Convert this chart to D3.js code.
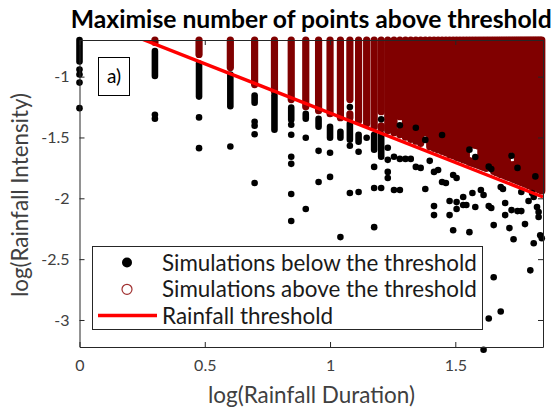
<!DOCTYPE html>
<html><head><meta charset="utf-8">
<script src="https://cdn.jsdelivr.net/npm/d3@7"></script>
<style>
html,body{margin:0;padding:0;background:#fff;}
svg{display:block;font-family:Lato,"Open Sans",sans-serif;}
</style></head><body>
<svg id="chart" width="559" height="415"></svg>
<script>
// axis limits and ticks (log10 units)
const xDomain = [0, 1.85];
const yDomain = [-3.222, -0.699];
const xTicks = [0, 0.5, 1, 1.5];
const yTicks = [-3, -2.5, -2, -1.5, -1];

// fitted threshold: two end points [log duration, log intensity]
const thresholdLine = [[0, -0.489], [1.85, -1.989]];

// simulations above threshold: per duration (h), lowest log intensity; columns run up to the top limit
const redColumns = [
  [2,-0.719],[3,-0.818],[4,-0.925],[5,-1.065],[6,-1.123],[7,-1.189],[8,-1.247],[9,-1.280],
  [10,-1.305],[11,-1.338],[12,-1.338],[13,-1.362],[14,-1.387],[15,-1.412],[16,-1.428],
  [17,-1.445],[18,-1.461],[19,-1.478],[20,-1.498],[21,-1.515],[22,-1.531],[23,-1.548],
  [24,-1.461],[25,-1.577],[26,-1.589],[27,-1.602],[28,-1.614],[29,-1.626],[30,-1.643],
  [31,-1.651],[32,-1.663],[33,-1.672],[34,-1.684],[35,-1.692],[36,-1.705],[37,-1.713],
  [38,-1.721],[39,-1.729],[40,-1.738],[41,-1.746],[42,-1.754],[43,-1.684],[44,-1.690],
  [45,-1.779],[46,-1.787],[47,-1.795],[48,-1.804],[49,-1.808],[50,-1.816],[51,-1.824],
  [52,-1.828],[53,-1.837],[54,-1.845],[55,-1.849],[56,-1.857],[57,-1.861],[58,-1.870],
  [59,-1.874],[60,-1.882],[61,-1.886],[62,-1.894],[63,-1.899],[64,-1.907],[65,-1.911],
  [66,-1.915],[67,-1.919],[68,-1.927],[69,-1.932],[70,-1.940]
];
// empty stretches inside the red cloud [duration, top, bottom]
const redGaps = [
  [12,-1.189,-1.305],[16,-1.288,-1.404],[19,-1.329,-1.445],
  [36,-1.560,-1.690],[37,-1.560,-1.700],[38,-1.565,-1.709],[39,-1.570,-1.700],
  [52,-1.593,-1.725],[53,-1.593,-1.725],[54,-1.600,-1.725],[55,-1.605,-1.720]
];

// simulations below threshold: dense runs [duration, top, bottom] and single points [duration, log intensity]
const blackRuns = [
  [1,-0.699,-0.875],[2,-0.789,-0.995],[3,-0.892,-1.164],[4,-0.983,-1.243],[5,-1.156,-1.214],
  [6,-1.156,-1.437],[7,-1.255,-1.354],[8,-1.305,-1.346],[9,-1.346,-1.412],[10,-1.412,-1.502],
  [11,-1.453,-1.502],[12,-1.387,-1.519],[13,-1.478,-1.535],[15,-1.478,-1.601],[16,-1.478,-1.659]
];
const blackPoints = [
  [1,-0.941],[1,-0.983],[1,-1.049],[1,-1.259],[2,-1.313],[2,-1.346],[3,-1.335],[3,-1.588],
  [4,-1.574],[5,-1.371],[5,-1.404],[5,-1.474],[5,-1.874],
  [7,-1.395],[7,-1.478],[7,-1.659],[7,-1.717],[7,-1.965],[7,-2.187],[8,-1.502],[8,-2.088],
  [9,-1.610],[9,-1.866],[10,-1.626],[10,-1.824],[11,-2.319],[12,-1.568],[12,-1.956],
  [13,-1.618],[13,-1.948],[14,-1.502],[15,-1.742],[15,-1.915],[15,-2.237],[16,-1.915],
  [17,-1.585],[17,-1.684],[17,-1.783],[17,-1.833],[18,-1.659],[18,-1.932],[19,-1.676],[19,-1.932],
  [20,-1.676],[21,-1.676],[22,-1.742],[23,-1.750],[24,-1.923],[25,-1.692],
  [26,-1.783],[26,-2.064],[26,-2.138],[27,-1.767],[28,-1.866],[29,-1.874],[30,-2.022],[30,-2.138],
  [31,-1.808],[31,-2.262],[32,-1.833],[32,-2.031],[32,-2.088],[34,-1.989],[34,-2.055],
  [35,-2.055],[36,-2.278],[37,-1.956],[38,-2.072],[40,-1.932],[41,-1.973],[41,-3.244],
  [43,-2.064],[43,-2.988],[44,-2.080],[45,-2.220],[45,-2.649],[48,-1.907],[48,-2.930],
  [49,-1.923],[50,-2.039],[50,-2.138],[52,-2.245],[53,-2.097],[54,-2.336],[56,-2.105],
  [58,-2.105],[58,-1.948],[60,-2.212],[62,-2.022],[63,-2.592],[64,-1.956],[65,-1.989],
  [65,-2.369],[67,-2.072],[68,-2.113],[68,-2.154],[69,-2.303],[70,-2.328],
  // a few showing through the red cloud
  [12,-1.250],[16,-1.350],[19,-1.400],[22,-1.420],[24,-1.520],[28,-1.480],[36,-1.600],
  [38,-1.660],[43,-1.740],[44,-1.760],[53,-1.650],[56,-1.750],[66,-1.820]
];

const legendItems = ["Simulations below the threshold", "Simulations above the threshold", "Rainfall threshold"];

const RED = "#800000", AX = "#262626", TXT = "#404040";
const svg = d3.select("#chart");
const plot = { left: 79.5, right: 543, top: 40, bottom: 347 };
const x = d3.scaleLinear().domain(xDomain).range([plot.left, plot.right]);
const y = d3.scaleLinear().domain(yDomain).range([plot.bottom, plot.top]);
const lx = d => x(Math.log10(d));

function fit(t, width) {
  const fs = parseFloat(t.attr("font-size"));
  const w = t.node().getComputedTextLength();
  t.attr("font-size", (fs * width / w).toFixed(2));
  return t;
}

svg.append("defs").append("clipPath").attr("id", "clip")
  .append("rect").attr("x", plot.left).attr("y", plot.top)
  .attr("width", plot.right - plot.left).attr("height", plot.bottom - plot.top);

// red cloud: each column split around its empty stretches
const redSegments = [];
redColumns.forEach(([d, low]) => {
  let top = yDomain[1];
  redGaps.filter(g => g[0] === d).forEach(g => {
    redSegments.push([d, top, g[1]]);
    top = g[2];
  });
  if (top > low) redSegments.push([d, top, low]);
});
svg.append("g").selectAll("line").data(redSegments).join("line")
  .attr("x1", d => lx(d[0])).attr("x2", d => lx(d[0]))
  .attr("y1", d => y(d[1])).attr("y2", d => y(d[2]))
  .attr("stroke", RED).attr("stroke-width", 7.2).attr("stroke-linecap", "round");

// black simulations
svg.append("g").selectAll("line").data(blackRuns).join("line")
  .attr("x1", d => lx(d[0])).attr("x2", d => lx(d[0]))
  .attr("y1", d => y(d[1])).attr("y2", d => y(d[2]))
  .attr("stroke", "#000").attr("stroke-width", 6.6).attr("stroke-linecap", "round");
svg.append("g").selectAll("circle").data(blackPoints).join("circle")
  .attr("cx", d => lx(d[0])).attr("cy", d => y(d[1])).attr("r", 3.3).attr("fill", "#000");

// threshold
svg.append("path").datum(thresholdLine).attr("clip-path", "url(#clip)")
  .attr("fill", "none").attr("stroke", "#ff0000").attr("stroke-width", 3.4)
  .attr("d", d3.line().x(d => x(d[0])).y(d => y(d[1])));

// axes (box with inward ticks)
function styleAxis(g) {
  g.select(".domain").attr("stroke", AX);
  g.selectAll(".tick line").attr("stroke", AX);
  g.selectAll(".tick text").attr("fill", TXT).attr("font-size", 16).attr("font-family", "Lato, sans-serif");
}
svg.append("g").attr("transform", `translate(0,${plot.bottom})`)
  .call(d3.axisBottom(x).tickValues(xTicks).tickSizeInner(-5).tickSizeOuter(0).tickPadding(13).tickFormat(d3.format("")))
  .call(styleAxis);
svg.append("g").attr("transform", `translate(0,${plot.top})`)
  .call(d3.axisTop(x).tickValues(xTicks).tickSizeInner(-5).tickSizeOuter(0).tickFormat(""))
  .call(styleAxis);
svg.append("g").attr("transform", `translate(${plot.left},0)`)
  .call(d3.axisLeft(y).tickValues(yTicks).tickSizeInner(-5).tickSizeOuter(0).tickPadding(10).tickFormat(d3.format("")))
  .call(styleAxis);
svg.append("g").attr("transform", `translate(${plot.right},0)`)
  .call(d3.axisRight(y).tickValues(yTicks).tickSizeInner(-5).tickSizeOuter(0).tickFormat(""))
  .call(styleAxis);
svg.selectAll(".tick text").text(function () { return this.textContent.replace("−", "-"); });

// title and axis labels
fit(svg.append("text").attr("x", (plot.left + plot.right) / 2).attr("y", 28)
  .attr("text-anchor", "middle").attr("font-weight", 700).attr("font-size", 19).attr("fill", "#000")
  .text("Maximise number of points above threshold"), 481);
fit(svg.append("text").attr("x", 311.5).attr("y", 403).attr("text-anchor", "middle")
  .attr("font-size", 17).attr("fill", TXT).text("log(Rainfall Duration)"), 207);
fit(svg.append("text").attr("transform", "translate(28,195) rotate(-90)").attr("text-anchor", "middle")
  .attr("font-size", 17).attr("fill", TXT).text("log(Rainfall Intensity)"), 204);

// panel tag
svg.append("rect").attr("x", 98.5).attr("y", 57.5).attr("width", 31).attr("height", 38)
  .attr("fill", "#fff").attr("stroke", "#000");
svg.append("text").attr("x", 114).attr("y", 83).attr("text-anchor", "middle")
  .attr("font-size", 19).attr("fill", "#000").text("a)");

// legend
const lg = svg.append("g");
lg.append("rect").attr("x", 92.5).attr("y", 246.5).attr("width", 390).attr("height", 83)
  .attr("fill", "#fff").attr("stroke", AX);
const rowY = [262.5, 289.3, 315.5];
lg.append("circle").attr("cx", 127).attr("cy", rowY[0]).attr("r", 5).attr("fill", "#000");
lg.append("circle").attr("cx", 127).attr("cy", rowY[1]).attr("r", 5).attr("fill", "none")
  .attr("stroke", "#a03030").attr("stroke-width", 1.2);
lg.append("line").attr("x1", 98).attr("x2", 157).attr("y1", rowY[2]).attr("y2", rowY[2])
  .attr("stroke", "#ff0000").attr("stroke-width", 3.4);
const widths = [315, 315, 171];
legendItems.forEach((s, i) => {
  const t = lg.append("text").attr("x", 162).attr("y", rowY[i]).attr("dy", "0.36em")
    .attr("font-size", 18).attr("fill", "#1a1a1a").text(s);
  fit(t, widths[i]);
});
</script>
</body></html>
